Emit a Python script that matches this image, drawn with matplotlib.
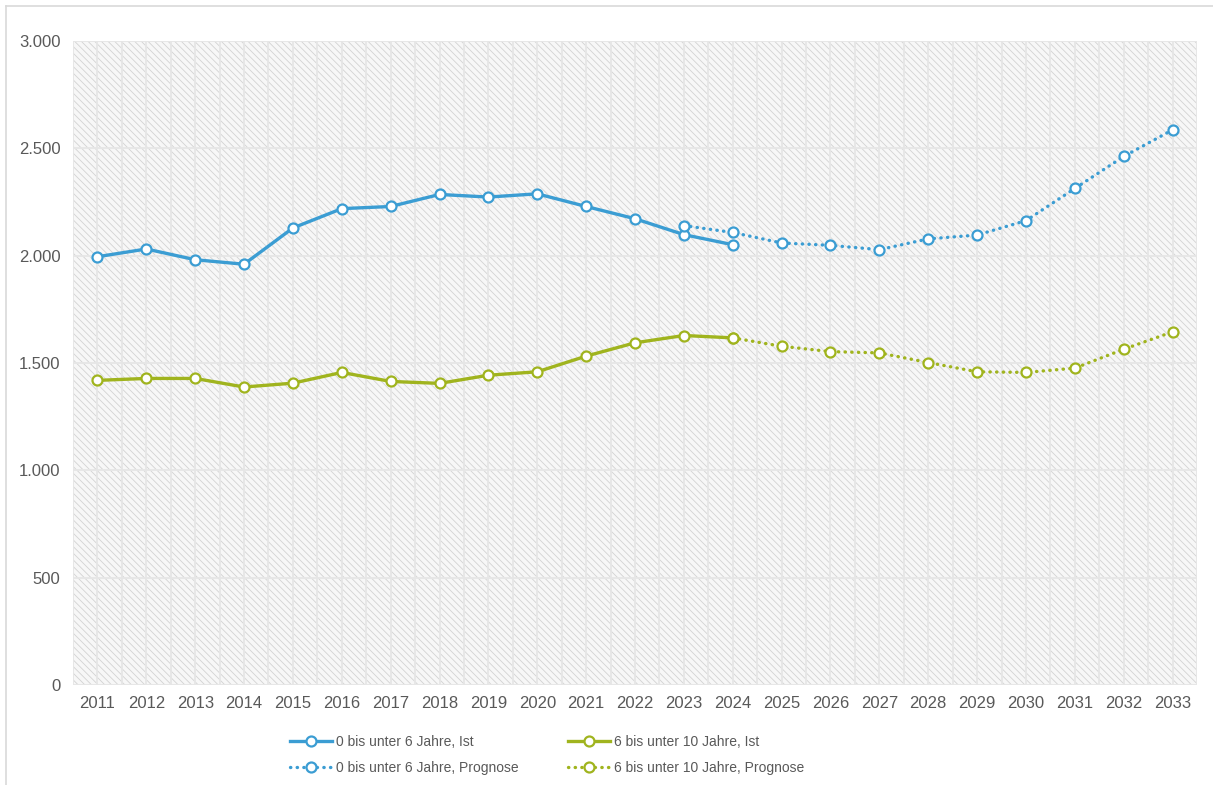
import numpy as np
import matplotlib.pyplot as plt
from matplotlib.patches import Rectangle
from matplotlib.ticker import FuncFormatter, MultipleLocator

plt.rcParams['font.family'] = ['Liberation Sans', 'DejaVu Sans']
plt.rcParams['hatch.linewidth'] = 0.6

# Daten
years = list(range(2011, 2034))
years_ist = list(range(2011, 2025))
years_prog_0_6 = list(range(2023, 2034))
years_prog_6_10 = list(range(2024, 2034))

ist_0_6 = [1995, 2031, 1981, 1960, 2129, 2219, 2229, 2285, 2273, 2288, 2229, 2172, 2098, 2051]
prog_0_6 = [2140, 2108, 2059, 2048, 2028, 2078, 2096, 2163, 2313, 2462, 2586]
ist_6_10 = [1419, 1428, 1428, 1388, 1406, 1456, 1414, 1405, 1443, 1459, 1532, 1594, 1628, 1617]
prog_6_10 = [1617, 1578, 1553, 1547, 1502, 1459, 1456, 1476, 1564, 1645]

labels = ['0 bis unter 6 Jahre, Ist', '0 bis unter 6 Jahre, Prognose',
          '6 bis unter 10 Jahre, Ist', '6 bis unter 10 Jahre, Prognose']

blue = '#3b9dd3'
green = '#a0b41e'
textcol = '#595959'

fig = plt.figure(figsize=(12.13, 7.85), dpi=100)
ax = fig.add_axes([0.0602, 0.1274, 0.9266, 0.8204])

# Rahmen links/oben
fig.add_artist(plt.Line2D([6 / 1213, 6 / 1213], [0, 1 - 6 / 785], transform=fig.transFigure, color='#d9d9d9', lw=1.2))
fig.add_artist(plt.Line2D([6 / 1213, 1], [1 - 6 / 785, 1 - 6 / 785], transform=fig.transFigure, color='#d9d9d9', lw=1.2))

ax.set_facecolor('white')
ax.add_patch(Rectangle((0, 0), 1, 1, transform=ax.transAxes, facecolor='#f7f7f7',
                       edgecolor='#d2d2d2', hatch='\\\\\\\\\\', linewidth=0, zorder=0))

x = np.arange(len(years))
pos = {y: i for i, y in enumerate(years)}

def xs(yrs):
    return [pos[y] for y in yrs]

ax.set_xlim(-0.5, len(years) - 0.5)
ax.set_ylim(0, 3000)
ax.yaxis.set_major_locator(MultipleLocator(500))
ax.yaxis.set_major_formatter(FuncFormatter(lambda v, p: f'{int(v):,}'.replace(',', '.')))
ax.set_xticks(x)
ax.set_xticklabels([str(y) for y in years])
ax.set_xticks(np.arange(-0.5, len(years), 1), minor=True)

ax.grid(True, which='both', axis='x', color='#e6e6e6', lw=1.3, zorder=1)
ax.grid(True, which='major', axis='y', color='#e6e6e6', lw=1.3, zorder=1)
ax.set_axisbelow(True)

for s in ax.spines.values():
    s.set_visible(False)
ax.tick_params(axis='both', which='both', length=0, labelsize=12, colors=textcol)
ax.tick_params(axis='y', pad=9)
ax.tick_params(axis='x', pad=8)

mk = dict(marker='o', markersize=7.2, markerfacecolor='white', markeredgewidth=1.6)
dot = (0, (0.1, 1.9))

h1, = ax.plot(xs(years_ist), ist_0_6, color=blue, lw=2.4, markeredgecolor=blue, zorder=3, **mk)
h2, = ax.plot(xs(years_prog_0_6), prog_0_6, color=blue, lw=2.4, ls=dot, dash_capstyle='round',
              markeredgecolor=blue, zorder=3, **mk)
h3, = ax.plot(xs(years_ist), ist_6_10, color=green, lw=2.4, markeredgecolor=green, zorder=3, **mk)
h4, = ax.plot(xs(years_prog_6_10), prog_6_10, color=green, lw=2.4, ls=dot, dash_capstyle='round',
              markeredgecolor=green, zorder=3, **mk)

leg = fig.legend([h1, h2, h3, h4], labels, ncol=2, loc='upper left',
                 bbox_to_anchor=(290 / 1213, 1 - 735 / 785), frameon=False,
                 fontsize=10, handlelength=3.0, handletextpad=0.3, columnspacing=3.6,
                 labelspacing=0.85, labelcolor=textcol, borderaxespad=0, borderpad=0)

fig.savefig('out.png', dpi=100)
